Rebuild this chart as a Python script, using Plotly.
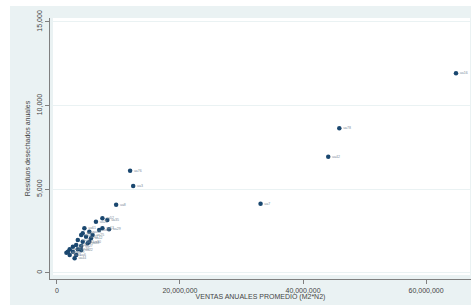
import plotly.graph_objects as go

# Data
ventas = [64.86e6, 45.9e6, 44.1e6, 33.1e6, 11.9e6, 12.4e6, 9.63e6,
          7.4e6, 6.35e6, 8.2e6, 4.47e6, 7.4e6, 8.47e6, 6.87e6, 5.27e6,
          3.95e6, 4.74e6, 3.4e6, 4.2e6, 3.14e6, 2.6e6, 3.95e6, 2.08e6,
          3.4e6, 1.55e6, 2.6e6, 2.08e6, 3.14e6, 2.88e6, 3.95e6, 5.0e6,
          5.54e6, 4.2e6, 1.8e6, 5.8e6, 5.27e6]
residuos = [11940, 8643, 6946, 4136, 6109, 5194, 4076,
            3264, 3060, 3162, 2666, 2666, 2606, 2564, 2463,
            2265, 2164, 1967, 1865, 1668, 1566, 1608, 1411,
            1411, 1207, 1267, 1070, 1070, 873, 1369, 1769,
            2068, 2367, 1267, 2265, 1865]
etiquetas = ["ua16", "ua78", "ua42", "ua7", "ua76", "ua3", "ua8",
             "ua52", "ua21", "ua35", "ua61", "ua13", "ua29", "ua47", "ua18",
             "ua5", "ua33", "ua24", "ua11", "ua40", "ua9", "ua27", "ua14",
             "ua36", "ua2", "ua19", "ua31", "ua6", "ua44", "ua22", "ua38",
             "ua12", "ua50", "ua4", "ua25", "ua30"]

x_tickvals = [0, 20000000, 40000000, 60000000]
x_ticktext = ["0", "20,000,000", "40,000,000", "60,000,000"]
y_tickvals = [0, 5000, 10000, 15000]
y_ticktext = ["0", "5,000", "10,000", "15,000"]

W, H = 471, 308
L, R, T, B = 50, 0, 18, 29
pw, ph = W - L - R, H - T - B

def px_x(p):
    return (p - L) / pw

def px_y(p):
    return (H - B - p) / ph

BG = "#EAF2F3"
NAVY = "#1A476F"
AX = "#808080"
FONT = "Liberation Sans, Arial, sans-serif"

fig = go.Figure()
fig.add_trace(go.Scatter(
    x=ventas, y=residuos, mode="markers+text",
    text=etiquetas, textposition="middle right",
    textfont=dict(size=3.5, color="#7a8c9a", family=FONT),
    marker=dict(color=NAVY, size=4.5, line=dict(width=0)),
    cliponaxis=False, hoverinfo="x+y+text", showlegend=False))

shapes = [
    dict(type="rect", xref="paper", yref="paper", layer="below",
         x0=px_x(10), x1=px_x(471), y0=px_y(305), y1=px_y(6),
         fillcolor=BG, line=dict(width=0)),
    dict(type="rect", xref="paper", yref="paper", layer="below",
         x0=px_x(53), x1=px_x(470), y0=px_y(275), y1=px_y(18),
         fillcolor="white", line=dict(width=0)),
]

fig.update_layout(
    width=W, height=H,
    margin=dict(l=L, r=R, t=T, b=B, pad=0),
    paper_bgcolor="white", plot_bgcolor="rgba(0,0,0,0)",
    font=dict(family=FONT, size=7, color="#444"),
    shapes=shapes,
    xaxis=dict(range=[-1.118e6, 67.3e6], tickvals=x_tickvals, ticktext=x_ticktext,
               showgrid=False, zeroline=False, showline=True, linecolor=AX, linewidth=1.2,
               ticks="outside", ticklen=4, tickcolor=AX, tickwidth=1,
               tickfont=dict(size=7, color="#444"),
               title=dict(text="VENTAS ANUALES PROMEDIO (M2*N2)", standoff=0,
                          font=dict(size=7, color="#444"))),
    yaxis=dict(range=[-365, 15236], tickvals=y_tickvals, ticktext=y_ticktext,
               showgrid=True, gridcolor=BG, gridwidth=1, zeroline=False,
               showline=True, linecolor=AX, linewidth=1.2,
               ticks="outside", ticklen=4, tickcolor=AX, tickwidth=1,
               tickangle=-90, tickfont=dict(size=7, color="#444"),
               title=dict(text="Residuos desechados anuales", standoff=4,
                          font=dict(size=7, color="#444"))),
)

fig.write_html("out.html", config={"displayModeBar": False},
               post_script="document.body.style.margin='0';")
